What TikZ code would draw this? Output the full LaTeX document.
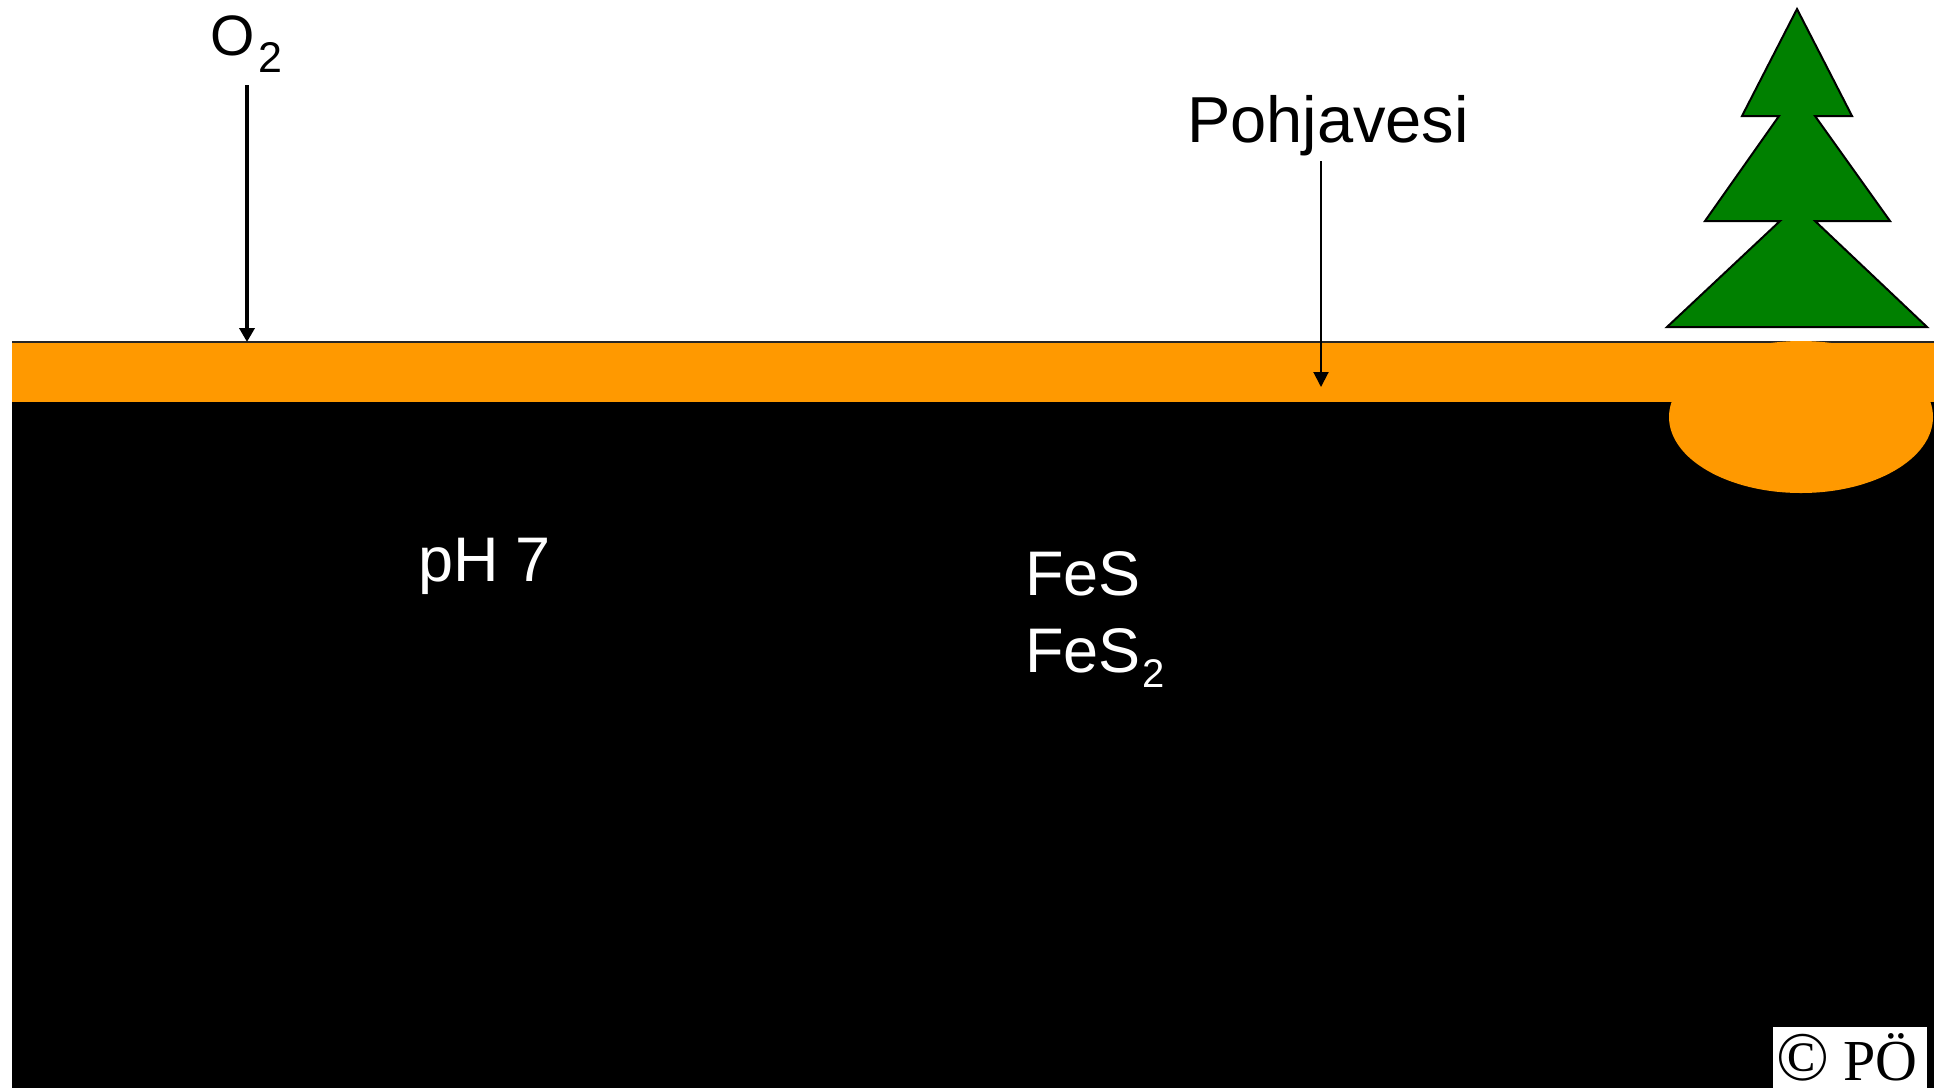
\documentclass[tikz,border=0pt]{standalone}
\usepackage{fontspec}
\setmainfont{Liberation Sans}
\newfontfamily\serifcopy{Liberation Serif}
\usetikzlibrary{arrows.meta}

\definecolor{soilorange}{HTML}{FF9900}
\definecolor{sprucegreen}{HTML}{008000}

\tikzset{
  lbl/.style={inner sep=0pt, outer sep=0pt, anchor=base west},
  bigtext/.style={lbl, font=\fontsize{65}{78}\selectfont},
  soiltext/.style={lbl, text=white, font=\fontsize{63}{74}\selectfont},
  fluxarrow/.style={draw=black, line width=4.5pt,
    -{Triangle[width=15pt,length=14pt]}},
  thinarrow/.style={draw=black, line width=2pt,
    -{Triangle[width=15pt,length=15pt]}},
  tree/.style={fill=sprucegreen, draw=black, line width=2pt, line join=miter}
}

\begin{document}
\begin{tikzpicture}[x=1pt, y=-1pt]
  \useasboundingbox[fill=white] (0,0) rectangle (1939,1088);

  % soil layers
  \fill[black] (12,402) rectangle (1934,1088);
  \fill[soilorange] (12,342) rectangle (1934,402);
  \draw[line width=2pt, black!85] (12,342) -- (1934,342);
  % root ball under the tree
  \fill[soilorange] (1801,417) ellipse [x radius=132, y radius=76];

  % spruce
  \draw[tree] (1797,9) -- (1852,116) -- (1815,116) -- (1890,221) -- (1815,221)
    -- (1927,327) -- (1667,327) -- (1780,221) -- (1705,221) -- (1779,116)
    -- (1742,116) -- cycle;

  % labels
  \node[bigtext, font=\fontsize{57}{68}\selectfont] (oxygen) at (210,55)
    {O\kern4pt\raisebox{-17pt}{\fontsize{43}{50}\selectfont 2}};
  \node[bigtext] (groundwater) at (1187,142) {Pohjavesi};
  \node[soiltext] (ph) at (418,581) {pH 7};
  \node[soiltext] (fes) at (1025,595) {FeS};
  \node[soiltext] (fes2) at (1025,672)
    {FeS\kern2pt\raisebox{-15pt}{\fontsize{40}{48}\selectfont 2}};

  % arrows
  \coordinate (o2top) at (247,85);
  \coordinate (o2tip) at (247,342);
  \draw[fluxarrow] (o2top) -- (o2tip);
  \coordinate (gwtop) at (1321,161);
  \coordinate (gwtip) at (1321,387);
  \draw[thinarrow] (gwtop) -- (gwtip);

  % copyright mark
  \fill[white] (1773,1027) rectangle (1927,1088);
  \node[lbl, font=\serifcopy\fontsize{58}{70}\selectfont] (copy) at (1776,1080)
    {\scalebox{1.2}{\textcopyright}{} PÖ};
\end{tikzpicture}
\end{document}
